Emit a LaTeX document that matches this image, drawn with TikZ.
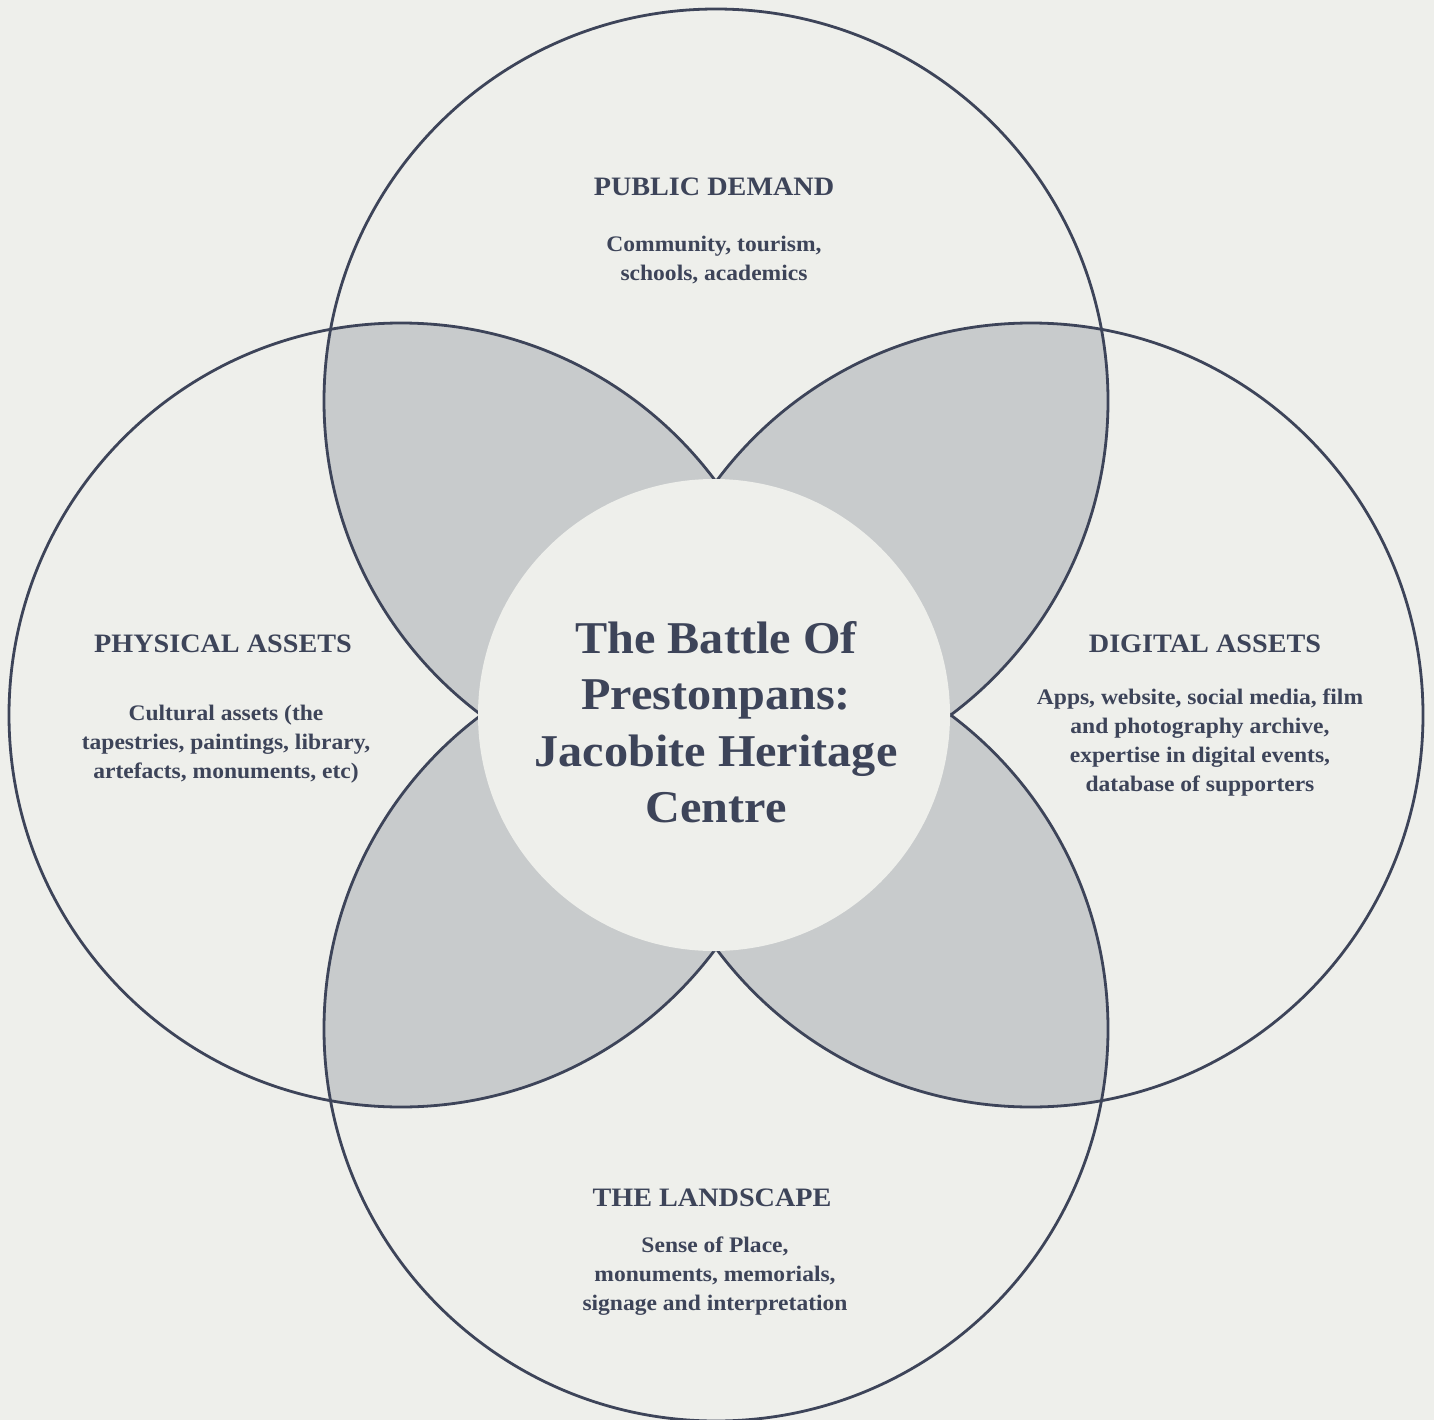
\documentclass[tikz,border=0pt]{standalone}
\usepackage{fontspec}
\setmainfont{Liberation Serif}[FakeStretch=1.06]
\definecolor{bg}{HTML}{EEEFEB}
\definecolor{lens}{HTML}{C8CBCC}
\definecolor{ink}{HTML}{3D4459}
\begin{document}
\begin{tikzpicture}[x=1pt,y=-1pt,
  ring/.style={draw=ink,line width=2.8pt},
  head/.style={text=ink,font=\fontsize{26.6}{32}\selectfont\bfseries,inner sep=0pt},
  body/.style={text=ink,font=\fontsize{22.2}{29}\selectfont\bfseries,align=center,inner sep=0pt},
  title/.style={text=ink,font=\fontsize{45.5}{56.5}\selectfont\bfseries,align=center,inner sep=0pt}]
\useasboundingbox (0,0) rectangle (1434,1420);
\fill[bg] (0,0) rectangle (1434,1420);
\def\R{392pt}
\coordinate (T) at (716,401);
\coordinate (B) at (716,1029);
\coordinate (L) at (401,715);
\coordinate (Rt) at (1031,715);
% lenses
\begin{scope}\clip (T) circle[radius=\R]; \fill[lens] (L) circle[radius=\R]; \fill[lens] (Rt) circle[radius=\R];\end{scope}
\begin{scope}\clip (B) circle[radius=\R]; \fill[lens] (L) circle[radius=\R]; \fill[lens] (Rt) circle[radius=\R];\end{scope}
% outlines
\draw[ring] (T) circle[radius=\R];
\draw[ring] (B) circle[radius=\R];
\draw[ring] (L) circle[radius=\R];
\draw[ring] (Rt) circle[radius=\R];
% centre disc
\fill[bg] (714,715) circle[radius=236pt];
% texts
\node[head] (pdh) at (714,187) {PUBLIC DEMAND};
\node[body] (pdb) at (714,260) {Community, tourism,\\schools, academics};
\node[head] (pah) at (223,644) {PHYSICAL ASSETS};
\node[body] (pab) at (226,744) {Cultural assets (the\\tapestries, paintings, library,\\artefacts, monuments, etc)};
\node[head] (dah) at (1205,644) {DIGITAL ASSETS};
\node[body] (dab) at (1200,743) {Apps, website, social media, film\\and photography archive,\\expertise in digital events,\\database of supporters};
\node[head] (tlh) at (712,1198) {THE LANDSCAPE};
\node[body] (tlb) at (715,1276) {Sense of Place,\\monuments, memorials,\\signage and interpretation};
\node[title] (ctr) at (716,722) {The Battle Of\\Prestonpans:\\Jacobite Heritage\\Centre};
\end{tikzpicture}
\end{document}
